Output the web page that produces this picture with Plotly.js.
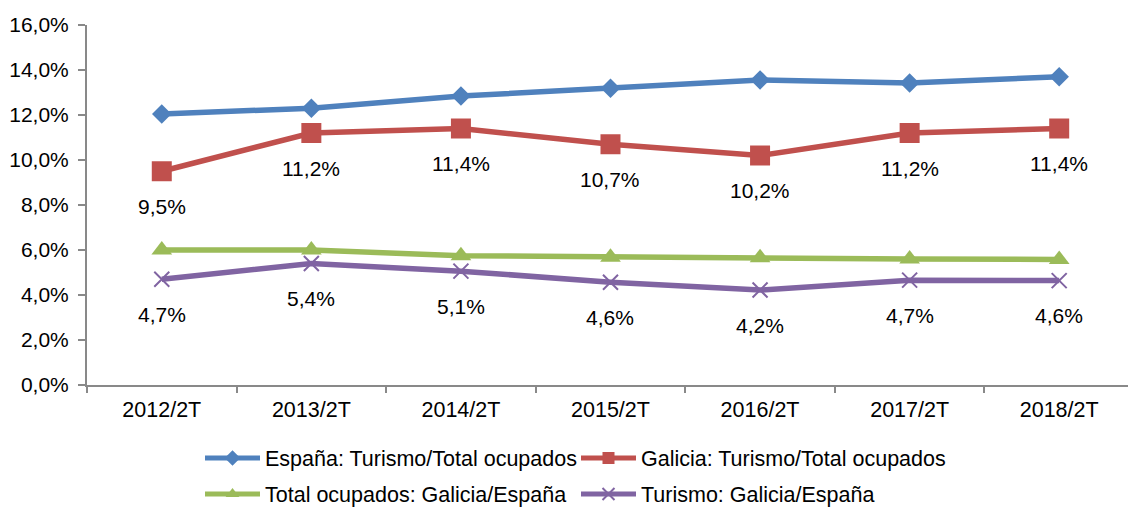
<!DOCTYPE html>
<html>
<head>
<meta charset="utf-8">
<script src="https://cdn.plot.ly/plotly-3.0.1.min.js"></script>
<style>html,body{margin:0;padding:0;background:#fff;}#chart{width:1128px;height:509px;}</style>
</head>
<body>
<div id="chart"></div>
<script>
const categories = ["2012/2T","2013/2T","2014/2T","2015/2T","2016/2T","2017/2T","2018/2T"];
const espanaTurismo = [12.05, 12.3, 12.84, 13.19, 13.56, 13.42, 13.7];
const galiciaTurismo = [9.5, 11.2, 11.4, 10.7, 10.2, 11.2, 11.4];
const totalOcupadosGE = [6.0, 6.0, 5.75, 5.68, 5.66, 5.6, 5.58];
const turismoGE = [4.7, 5.4, 5.06, 4.57, 4.22, 4.66, 4.64];
const seriesNames = ["España: Turismo/Total ocupados","Galicia: Turismo/Total ocupados","Total ocupados: Galicia/España","Turismo: Galicia/España"];
const yTicks = [0,2,4,6,8,10,12,14,16];

const FONT = "Liberation Sans, Arial, sans-serif";
const fmt = v => v.toFixed(1).replace('.', ',') + '%';

const traces = [
  {x: categories, y: espanaTurismo, name: seriesNames[0], mode: 'lines+markers', legend: 'legend',
   line: {color: '#4F81BD', width: 5.5}, marker: {symbol: 'diamond', size: 15, color: '#4F81BD'}},
  {x: categories, y: galiciaTurismo, name: seriesNames[1], mode: 'lines+markers', legend: 'legend2',
   line: {color: '#C0504D', width: 5.5}, marker: {symbol: 'square', size: 20, color: '#C0504D'}},
  {x: categories, y: totalOcupadosGE, name: seriesNames[2], mode: 'lines+markers', legend: 'legend3',
   line: {color: '#9BBB59', width: 5.5}, marker: {symbol: 'triangle-up', size: 18, color: '#9BBB59'}},
  {x: categories, y: turismoGE, name: seriesNames[3], mode: 'lines+markers', legend: 'legend4',
   line: {color: '#8064A2', width: 5.5}, marker: {symbol: 'x-thin', size: 15, color: '#8064A2', line: {color: '#8064A2', width: 2}}}
];

const annotations = [];
[galiciaTurismo, turismoGE].forEach(arr => {
  arr.forEach((v, i) => {
    annotations.push({x: categories[i], y: v, xref: 'x', yref: 'y', text: fmt(v), showarrow: false,
      xanchor: 'center', yanchor: 'middle', yshift: -35, font: {family: FONT, size: 21, color: '#000'}});
  });
});

function leg(xpx, ypx) {
  return {x: xpx/1128, y: 1 - ypx/509, xref: 'container', yref: 'container', xanchor: 'left', yanchor: 'middle',
    orientation: 'h', font: {family: FONT, size: 21.5, color: '#000'}, bgcolor: 'rgba(0,0,0,0)', itemwidth: 55,
    itemsizing: 'constant', borderwidth: 0};
}

const layout = {
  width: 1128, height: 509,
  margin: {l: 87, r: 0, t: 25, b: 124},
  paper_bgcolor: '#fff', plot_bgcolor: '#fff',
  separators: ',.',
  font: {family: FONT, size: 21, color: '#000'},
  showlegend: true,
  xaxis: {type: 'category', range: [-0.5, 6.46], showline: true, linecolor: '#898989', linewidth: 2,
    ticks: 'outside', tickson: 'boundaries', ticklen: 6, tickcolor: '#898989', tickwidth: 2, ticklabelstandoff: 4,
    showgrid: false, zeroline: false, tickfont: {family: FONT, size: 21.5, color: '#000'}, fixedrange: true},
  yaxis: {range: [0, 16], tickvals: yTicks, ticktext: yTicks.map(fmt), showline: true,
    linecolor: '#898989', linewidth: 2, ticks: 'outside', ticklen: 7, tickcolor: '#898989', tickwidth: 2, ticklabelstandoff: 5,
    showgrid: false, zeroline: false, tickfont: {family: FONT, size: 21, color: '#000'}, fixedrange: true},
  legend: leg(200, 458),
  legend2: leg(576, 458),
  legend3: leg(200, 494),
  legend4: leg(576, 494),
  annotations: annotations
};

Plotly.newPlot('chart', traces, layout, {displayModeBar: false, staticPlot: true});
</script>
</body>
</html>
